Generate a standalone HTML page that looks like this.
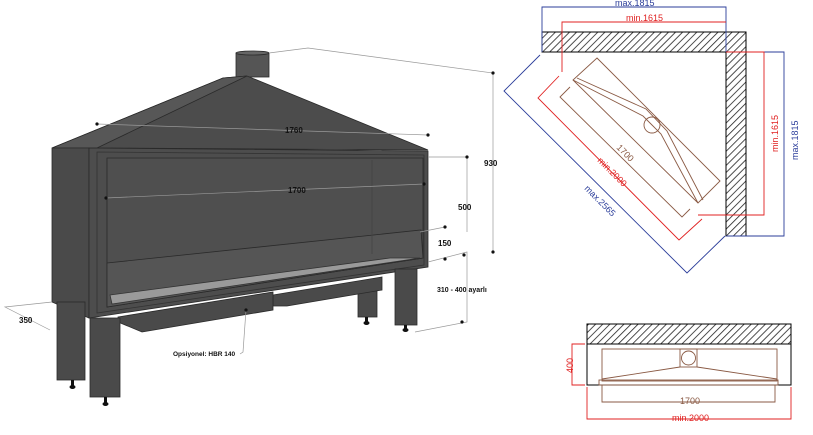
<!DOCTYPE html>
<html><head><meta charset="utf-8"><style>
html,body{margin:0;padding:0;background:#fff;width:813px;height:435px;overflow:hidden}
svg{display:block}
text{font-family:"Liberation Sans",sans-serif}
</style></head><body>
<svg width="813" height="435" viewBox="0 0 813 435" xmlns="http://www.w3.org/2000/svg">
<defs>
<pattern id="h" width="5" height="5" patternUnits="userSpaceOnUse" patternTransform="rotate(45)">
<rect width="5" height="5" fill="#fff"/><line x1="0" y1="0" x2="0" y2="5" stroke="#222" stroke-width="1.6"/>
</pattern>
</defs>
<!-- ========== Fireplace ========== -->
<g stroke="#2a2a2a" stroke-width="0.8">
<!-- chimney -->
<rect x="236" y="53" width="33" height="24" fill="#555"/>
<ellipse cx="252.5" cy="53" rx="16.5" ry="2" fill="#666"/>
<!-- hood -->
<polygon points="52,148 223,78 247,76 428,150 97,148" fill="#4c4c4c"/>
<polygon points="52,148 223,78 247,76 97,148" fill="#575757"/>
<!-- left side -->
<polygon points="52,148 89,148 89,318 52,302" fill="#4a4a4a"/>
<!-- back legs -->
<rect x="57" y="302" width="28" height="78" fill="#4a4a4a"/>
<rect x="358" y="282" width="19" height="35" fill="#4a4a4a"/>
<!-- boxes under -->
<polygon points="273,295 382,277 382,290 287,306 273,306" fill="#4a4a4a"/>
<polygon points="118,317 273,292 273,310 142,332 118,322" fill="#4a4a4a"/>
<!-- front frame -->
<polygon points="89,148 428,151 428,267 89,318" fill="#4d4d4d"/>
<polygon points="97,152 424,155 424,265 97,313" fill="none" stroke="#333"/>
<!-- opening -->
<polygon points="107,158 423,158 423,258 107,307" fill="#4f4f4f"/>
<polygon points="107,263 421,230 423,258 107,307" fill="#555"/>
<line x1="372" y1="160" x2="372" y2="254" stroke="#444"/>
<polygon points="110,295 390,258 420,258 112,304" fill="#9a9a9a" stroke="#333"/>
<!-- front legs -->
<rect x="90" y="318" width="30" height="79" fill="#4a4a4a"/>
<rect x="395" y="269" width="22" height="56" fill="#4a4a4a"/>
</g>
<g fill="#111">
<rect x="71" y="380" width="3" height="6"/><ellipse cx="72.5" cy="387" rx="3" ry="2"/>
<rect x="104" y="397" width="3" height="6"/><ellipse cx="105.5" cy="404" rx="3" ry="2"/>
<rect x="365" y="317" width="3" height="5"/><ellipse cx="366.5" cy="323" rx="3" ry="2"/>
<rect x="404" y="325" width="3" height="5"/><ellipse cx="405.5" cy="330" rx="3" ry="2"/>
</g>
<!-- dims on fireplace -->
<g stroke="#999" stroke-width="0.7" fill="none">
<polyline points="269,53 308,48 493,73 493,252"/>
<polyline points="97,124 428,135"/>
<polyline points="106,198 424,184"/>
<polyline points="428,157 467,157 467,232"/>
<polyline points="420,232 445,227"/>
<polyline points="428,262 467,252 467,322 415,332"/>
<polyline points="52,302 5,307 50,330"/>
<polyline points="246,310 243,352 240,354"/>
</g>
<g fill="#111">
<circle cx="97" cy="124" r="1.6"/><circle cx="428" cy="135" r="1.6"/>
<circle cx="106" cy="198" r="1.6"/><circle cx="424" cy="184" r="1.6"/>
<circle cx="493" cy="73" r="1.6"/><circle cx="493" cy="252" r="1.6"/>
<circle cx="467" cy="157" r="1.6"/><circle cx="464" cy="255" r="1.6"/>
<circle cx="445" cy="227" r="1.6"/><circle cx="445" cy="259" r="1.6"/>
<circle cx="462" cy="322" r="1.6"/><circle cx="246" cy="310" r="1.6"/>
</g>
<g font-size="8" font-weight="bold" fill="#111">
<text x="285" y="133">1760</text>
<text x="288" y="193">1700</text>
<text x="458" y="210">500</text>
<text x="484" y="166">930</text>
<text x="438" y="246">150</text>
<text x="437" y="292" font-size="7">310 - 400 ayarlı</text>
<text x="19" y="323">350</text>
<text x="173" y="356" font-size="6.5">Opsiyonel: HBR 140</text>
</g>

<!-- ========== Corner plan ========== -->
<rect x="542" y="32" width="204" height="20" fill="url(#h)" stroke="#000" stroke-width="1"/>
<rect x="726" y="52" width="20" height="184" fill="url(#h)" stroke="#000" stroke-width="1"/>
<polyline points="542,52 726,52 726,236" fill="none" stroke="#000"/>
<g stroke="#2b3d9a" stroke-width="0.9" fill="none">
<polyline points="542,52 542,7 726,7 726,52"/>
<polyline points="726,52 784,52 784,236 726,236"/>
<polyline points="540,55 504,91 687,273 725,236"/>
</g>
<g stroke="#e02020" stroke-width="0.9" fill="none">
<polyline points="562,72 562,22 726,22"/>
<polyline points="698,215 764,215 764,52 726,52"/>
<polyline points="559,76 538,98 679,240 702,219"/>
</g>
<g stroke="#8a5a44" stroke-width="0.9" fill="none">
<polygon points="597,58 720,181 698,203 573,80"/>
<polyline points="570,87 560,97 682,217 690,209"/>
<polyline points="573,80 643,116 652,125 661,134 698,203"/>
<polyline points="577,78 646,109 667,131 703,200"/>
<circle cx="652" cy="125" r="8"/>
</g>
<g font-size="9" fill="#2b3d9a"><text x="615" y="6">max.1815</text>
<text transform="translate(798,160) rotate(-90)">max.1815</text>
<text transform="translate(584,189) rotate(45)">max.2565</text></g>
<g font-size="9" fill="#e02020"><text x="626" y="21">min.1615</text>
<text transform="translate(778,152) rotate(-90)">min.1615</text>
<text transform="translate(597,161) rotate(45)">min.2000</text></g>
<text transform="translate(616,148) rotate(45)" font-size="9" fill="#8a5a44">1700</text>

<!-- ========== Front plan ========== -->
<rect x="587" y="324" width="204" height="20" fill="url(#h)" stroke="#000"/>
<rect x="587" y="344" width="204" height="41" fill="none" stroke="#000"/>
<g stroke="#8a5a44" stroke-width="0.9" fill="none">
<rect x="602" y="349" width="175" height="32"/>
<rect x="680" y="349" width="17" height="18"/>
<circle cx="688.5" cy="358" r="7"/>
<polyline points="602,379 680,367"/><polyline points="697,367 777,379"/>
<rect x="599" y="380" width="179" height="5"/>
<polyline points="602,385 602,402 775,402 775,385"/>
</g>
<text x="680" y="404" font-size="9" fill="#8a5a44">1700</text>
<g stroke="#e02020" stroke-width="0.9" fill="none">
<polyline points="587,387 587,419 791,419 791,387"/>
<polyline points="585,344 572,344 572,385 585,385"/>
</g>
<text x="672" y="421" font-size="9" fill="#e02020">min.2000</text>
<text transform="translate(573,373) rotate(-90)" font-size="9" fill="#e02020">400</text>
</svg>
</body></html>
